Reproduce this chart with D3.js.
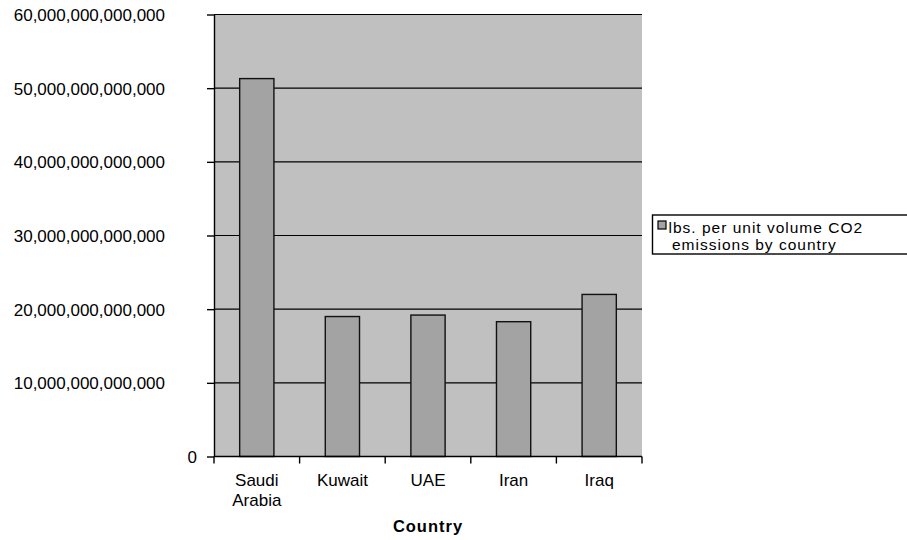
<!DOCTYPE html>
<html>
<head>
<meta charset="utf-8">
<script src="https://cdn.jsdelivr.net/npm/d3@7"></script>
<style>
  html, body { margin: 0; padding: 0; background: #fff; }
  svg { display: block; font-family: "Liberation Sans", Arial, sans-serif; }
</style>
</head>
<body>
<svg id="chart" width="907" height="540"></svg>
<script>
const categories = ["Saudi Arabia", "Kuwait", "UAE", "Iran", "Iraq"];
const categoryLines = [["Saudi", "Arabia"], ["Kuwait"], ["UAE"], ["Iran"], ["Iraq"]];
const values = [51.3e12, 19.0e12, 19.2e12, 18.3e12, 22.0e12];
const yTicks = [0, 10e12, 20e12, 30e12, 40e12, 50e12, 60e12];
const seriesName = ["lbs. per unit volume CO2", "emissions by country"];
const xTitle = "Country";

(function () {
const svg = d3.select("#chart");
const pL = 214, pR = 642, pT = 14.5, pB = 456.5;

const x = d3.scaleBand().domain(categories).range([pL, pR]).paddingInner(0.6).paddingOuter(0.3);
const xCat = d3.scaleBand().domain(categories).range([pL, pR]).padding(0);
const y = d3.scaleLinear().domain([0, 60e12]).range([pB, pT]);

// plot background
svg.append("rect").attr("x", pL).attr("y", pT).attr("width", pR - pL).attr("height", pB - pT).attr("fill", "#c0c0c0");

// gridlines
svg.append("g").selectAll("line").data(yTicks.filter(d => d > 0)).join("line")
  .attr("x1", pL).attr("x2", pR)
  .attr("y1", d => y(d)).attr("y2", d => y(d))
  .attr("stroke", "#000").attr("stroke-width", 1.2);

// bars
svg.append("g").selectAll("rect").data(values).join("rect")
  .attr("x", (d, i) => x(categories[i]))
  .attr("y", d => y(d))
  .attr("width", x.bandwidth())
  .attr("height", d => y(0) - y(d))
  .attr("fill", "#a3a3a3").attr("stroke", "#111").attr("stroke-width", 1.4);

// y axis
const yAxis = svg.append("g").attr("transform", `translate(${pL},0)`)
  .call(d3.axisLeft(y).tickValues(yTicks).tickSize(7).tickSizeOuter(0).tickFormat(d3.format(",.0f")));
yAxis.select(".domain").attr("stroke", "#000").attr("stroke-width", 1.4);
yAxis.selectAll(".tick line").attr("stroke", "#000").attr("stroke-width", 1.4);
yAxis.selectAll(".tick text")
  .attr("font-size", 17).attr("fill", "#000")
  .attr("font-family", "Liberation Sans, Arial, sans-serif")
  .attr("x", d => d === 0 ? -17 : -49)
  .attr("dy", "0.36em");

// x axis line
svg.append("line").attr("x1", pL).attr("x2", pR).attr("y1", pB).attr("y2", pB)
  .attr("stroke", "#000").attr("stroke-width", 1.4);
// x ticks at category boundaries
const bounds = categories.map(c => xCat(c)).concat([pR]);
svg.append("g").selectAll("line").data(bounds).join("line")
  .attr("x1", d => d).attr("x2", d => d)
  .attr("y1", pB).attr("y2", pB + 7)
  .attr("stroke", "#000").attr("stroke-width", 1.4);

// x labels
const xl = svg.append("g").selectAll("text").data(categories).join("text")
  .attr("x", c => xCat(c) + xCat.bandwidth() / 2)
  .attr("y", 486)
  .attr("text-anchor", "middle").attr("font-size", 17).attr("fill", "#000");
xl.each(function(c, i) {
  d3.select(this).selectAll("tspan").data(categoryLines[i]).join("tspan")
    .attr("x", xCat(c) + xCat.bandwidth() / 2)
    .attr("dy", (d, j) => j === 0 ? 0 : 19.5)
    .text(d => d);
});

// x title
svg.append("text").attr("x", (pL + pR) / 2).attr("y", 532)
  .attr("text-anchor", "middle").attr("font-size", 16.5).attr("font-weight", "bold")
  .attr("letter-spacing", 1).attr("fill", "#000").text(xTitle);

// legend
const lg = svg.append("g");
lg.append("rect").attr("x", 652.5).attr("y", 215).attr("width", 270).attr("height", 39)
  .attr("fill", "#fff").attr("stroke", "#000").attr("stroke-width", 1.4);
lg.append("rect").attr("x", 658).attr("y", 221).attr("width", 8).attr("height", 8)
  .attr("fill", "#a3a3a3").attr("stroke", "#000").attr("stroke-width", 1.2);
lg.append("text").attr("x", 668.5).attr("y", 232.5).attr("font-size", 15.5).attr("letter-spacing", 1)
  .attr("fill", "#000").text(seriesName[0]);
lg.append("text").attr("x", 672).attr("y", 250).attr("font-size", 15.5).attr("letter-spacing", 1)
  .attr("fill", "#000").text(seriesName[1]);
})();
</script>
</body>
</html>
